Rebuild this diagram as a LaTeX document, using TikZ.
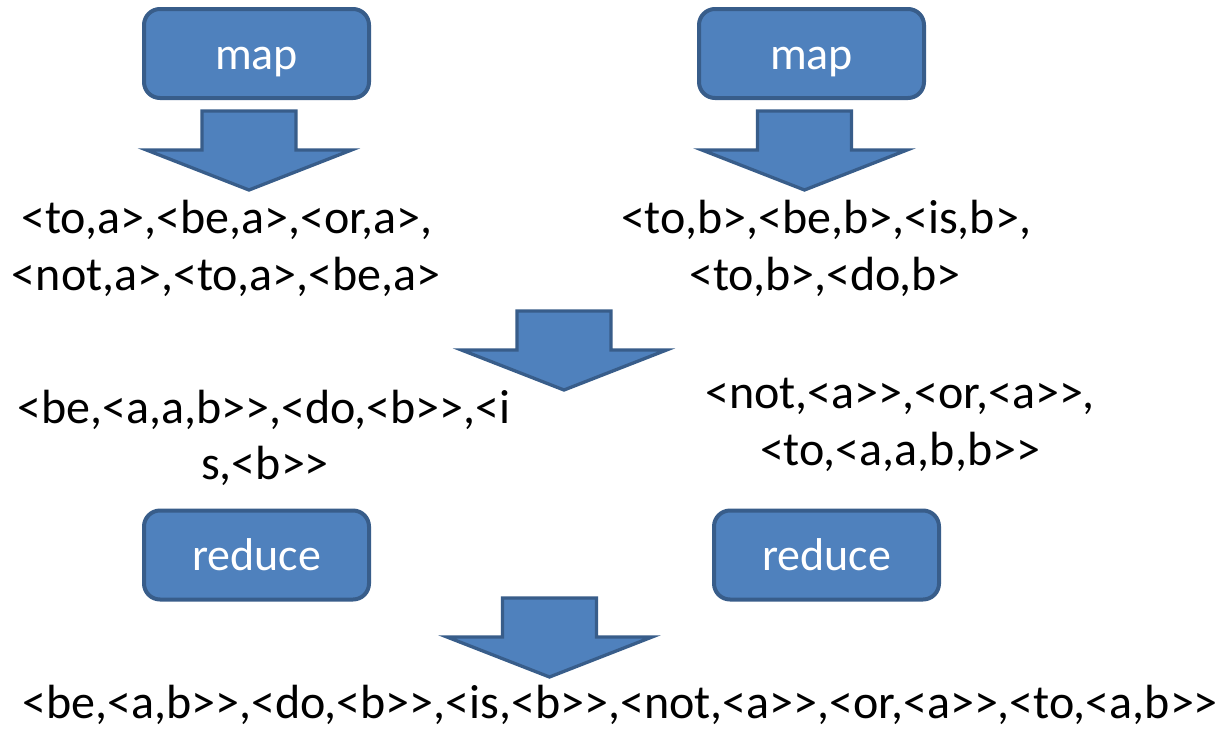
\documentclass[tikz,border=0pt]{standalone}
\usepackage{fontspec}
\newfontfamily\calib{Carlito}
\definecolor{boxfill}{HTML}{4F81BD}
\definecolor{boxline}{HTML}{385D8A}
\tikzset{
  x=1pt, y=-1pt,
  procbox/.style={draw=boxline, fill=boxfill, line width=4pt, rounded corners=16pt,
    minimum width=225pt, minimum height=89pt, inner sep=0pt, text=white,
    text height=31pt, text depth=0pt,
    font=\calib\fontsize{46}{55}\selectfont},
  kv/.style={anchor=base, inner sep=0pt, font=\calib\fontsize{48}{58}\selectfont, text=black},
  arrowshape/.style={draw=boxline, fill=boxfill, line width=3.3pt, line join=miter},
  blockarrow/.pic={\path[arrowshape] (-47,0) -- (47,0) -- (47,39) -- (102.5,39) -- (0,79)
    -- (-102.5,39) -- (-47,39) -- cycle;}
}
\begin{document}
\begin{tikzpicture}
\useasboundingbox[fill=white] (0,0) rectangle (1225,731);
% boxes
\node[procbox] (map1) at (256.5,53.5) {map};
\node[procbox] (map2) at (811.5,53.5) {map};
\node[procbox] (red1) at (256.5,555) {reduce};
\node[procbox] (red2) at (826.5,555) {reduce};
% block arrows
\pic at (249,111) {blockarrow};
\pic at (804.5,111) {blockarrow};
\pic at (564,311) {blockarrow};
\pic at (549.5,598) {blockarrow};
% texts
\node[kv] (ta1) at (227,233) {<to,a>,<be,a>,<or,a>,};
\node[kv] (ta2) at (226,290) {<not,a>,<to,a>,<be,a>};
\node[kv] (tb1) at (826,233) {<to,b>,<be,b>,<is,b>,};
\node[kv] (tb2) at (825,290) {<to,b>,<do,b>};
\node[kv] (sa1) at (264,423) {<be,<a,a,b>>,<do,<b>>,<i};
\node[kv] (sa2) at (265,479) {s,<b>>};
\node[kv] (sb1) at (900,408) {<not,<a>>,<or,<a>>,};
\node[kv] (sb2) at (900,465) {<to,<a,a,b,b>>};
\node[kv] (res) at (620,718) {<be,<a,b>>,<do,<b>>,<is,<b>>,<not,<a>>,<or,<a>>,<to,<a,b>>};
\end{tikzpicture}
\end{document}
